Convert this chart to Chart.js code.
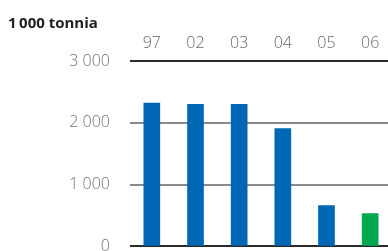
<!DOCTYPE html>
<html>
<head>
<meta charset="utf-8">
<script src="https://cdn.jsdelivr.net/npm/chart.js@4"></script>
<style>
  html, body { margin: 0; padding: 0; background: #fff; overflow: hidden; }
  #wrap { width: 392px; height: 251px; overflow: hidden; }
  canvas { display: block; }
</style>
</head>
<body>
<div id="wrap"><canvas id="c" width="392" height="276"></canvas></div>
<script>
var years = ["97", "02", "03", "04", "05", "06"];
var tonnes = [2320, 2300, 2300, 1910, 660, 530];
var barColors = ["#0067b4", "#0067b4", "#0067b4", "#0067b4", "#0067b4", "#00a94f"];
var yTicks = [0, 1000, 2000, 3000];

function fmt(v) {
  return String(v).replace(/\B(?=(\d{3})+(?!\d))/g, " ");
}

var ctx = document.getElementById('c');
var chart = new Chart(ctx, {
  type: 'bar',
  data: {
    labels: years,
    datasets: [{
      data: tonnes,
      backgroundColor: barColors,
      barThickness: 16
    }]
  },
  options: {
    responsive: false,
    animation: false,
    layout: { padding: { top: 0, bottom: 0, left: 8, right: 0 } },
    plugins: {
      legend: { display: false },
      tooltip: { enabled: false },
      title: {
        display: true,
        text: '1\u2009000 tonnia',
        align: 'start',
        color: '#222',
        font: { family: 'Open Sans', size: 15, weight: 'bold' },
        padding: { top: 15, bottom: 1 }
      }
    },
    scales: {
      x: {
        position: 'top',
        grid: { display: false },
        border: { display: false },
        ticks: {
          color: '#666',
          padding: 0,
          font: { family: 'Open Sans', size: 16, weight: 300 }
        }
      },
      y: {
        min: 0,
        max: 3000,
        afterBuildTicks: function(scale) {
          scale.ticks = yTicks.map(function(v) { return { value: v }; });
        },
        border: { display: false },
        grid: {
          drawTicks: false,
          lineWidth: 2,
          color: function(c) {
            var v = c.tick ? c.tick.value : 0;
            return (v === 0 || v === 3000) ? '#2b2b2b' : '#8a8a8a';
          }
        },
        ticks: {
          color: '#707070',
          padding: 20,
          font: { family: 'Open Sans', size: 16, weight: 300 },
          callback: function(v) { return fmt(v); }
        },
        afterFit: function(scale) { scale.width = 122; }
      }
    }
  }
});
</script>
</body>
</html>
